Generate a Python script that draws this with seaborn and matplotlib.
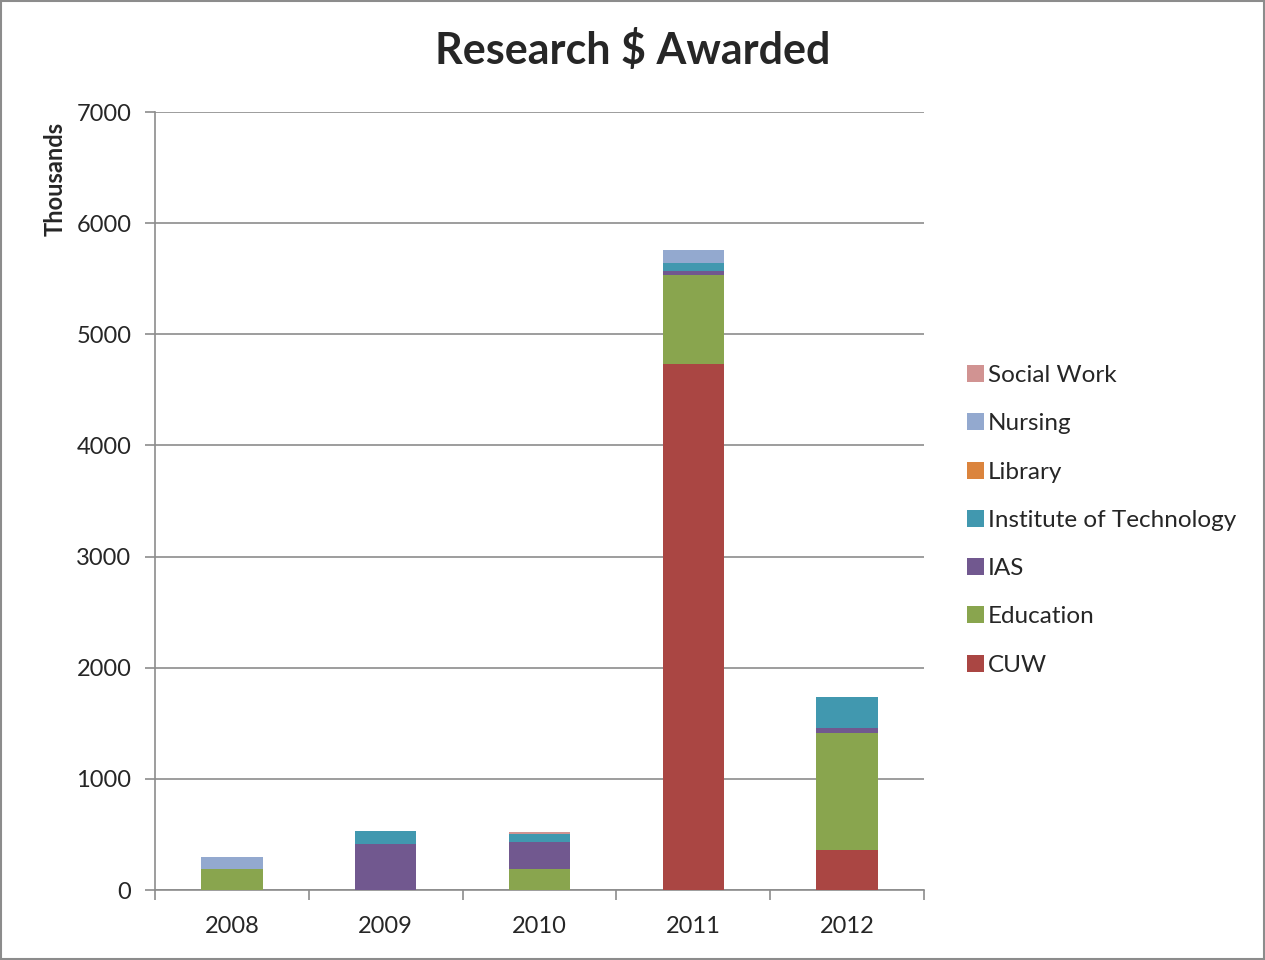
import numpy as np
import pandas as pd
import seaborn as sns
import matplotlib.pyplot as plt
from matplotlib.patches import Patch, Rectangle

years = ["2008", "2009", "2010", "2011", "2012"]
cuw = [0, 0, 0, 4730, 360]
education = [190, 0, 190, 800, 1055]
ias = [0, 415, 240, 36, 42]
inst_tech = [0, 120, 70, 80, 276]
library = [0, 0, 0, 0, 6]
nursing = [105, 0, 0, 110, 0]
social_work = [0, 0, 18, 0, 0]

series = [
    ("CUW", cuw, "#AA4643"),
    ("Education", education, "#89A54E"),
    ("IAS", ias, "#71588F"),
    ("Institute of Technology", inst_tech, "#4198AF"),
    ("Library", library, "#DB843D"),
    ("Nursing", nursing, "#93A9CF"),
    ("Social Work", social_work, "#D19392"),
]

sns.set_style("white")
plt.rcParams['font.family'] = ['Lato', 'DejaVu Sans']

fig = plt.figure(figsize=(12.65, 9.6), dpi=100)
ax = fig.add_axes([0.1225, 0.0729, 0.608, 0.8104])

bottom = np.zeros(len(years))
for name, vals, color in series:
    df = pd.DataFrame({"Year": years, "Value": vals})
    sns.barplot(data=df, x="Year", y="Value", color=color, bottom=bottom,
                width=0.4, ax=ax, linewidth=0, saturation=1, zorder=3)
    bottom = bottom + np.array(vals)

ax.set_xlim(-0.5, 4.5)
ax.set_ylim(0, 7000)
ax.set_yticks(range(0, 7001, 1000))
ax.yaxis.grid(True, color="#8c8c8c", linewidth=1.2, zorder=0)
ax.set_axisbelow(True)
for s in ["top", "right"]:
    ax.spines[s].set_visible(False)
for s in ["left", "bottom"]:
    ax.spines[s].set_color("#8c8c8c")
    ax.spines[s].set_linewidth(1.2)
ax.tick_params(axis="y", length=7, color="#8c8c8c", width=1.2, labelsize=17, pad=10, left=True)
ax.tick_params(axis="x", length=0, labelsize=17, pad=19)
ax.set_xticks(np.arange(-0.5, 4.6, 1), minor=True)
ax.tick_params(axis="x", which="minor", length=7, color="#8c8c8c", width=1.2, bottom=True)
ax.set_xlabel("")
ax.set_ylabel("Thousands", fontsize=17, fontweight="bold")
ax.yaxis.set_label_coords(-0.115, 0.914)

fig.text(0.5, 0.948, "Research $ Awarded", fontsize=31, fontweight="bold",
         ha="center", va="center")

handles = [Patch(facecolor=c, edgecolor="none", label=n) for n, _, c in reversed(series)]
fig.legend(handles=handles, loc="center left", bbox_to_anchor=(0.757, 0.458),
           frameon=False, fontsize=17.5, handlelength=0.7, handleheight=0.7,
           handletextpad=0.15, labelspacing=1.12, borderaxespad=0)

fig.patches.append(Rectangle((0.001, 0.001), 0.998, 0.998, transform=fig.transFigure,
                             fill=False, edgecolor="#8c8c8c", linewidth=1.5))

fig.savefig("out.png", dpi=100)
